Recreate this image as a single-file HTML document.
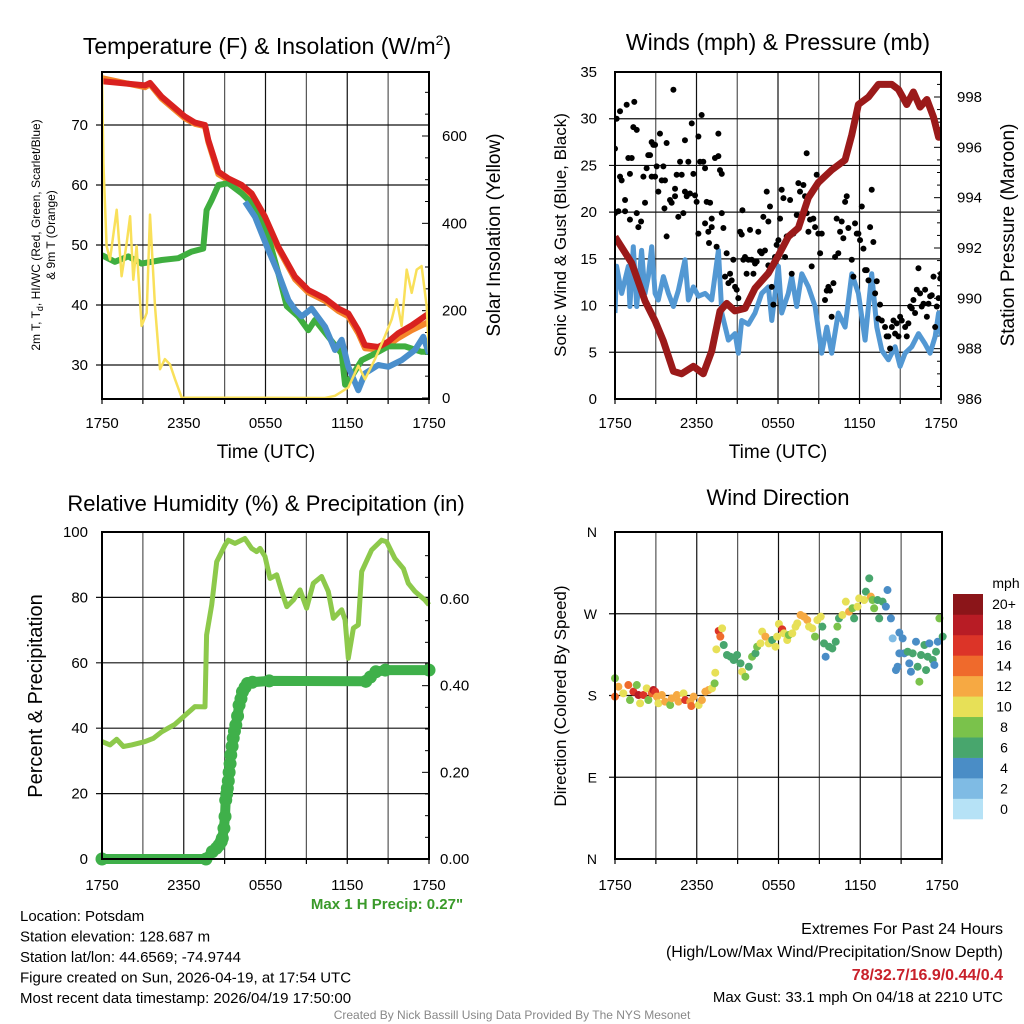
<!DOCTYPE html>
<html><head><meta charset="utf-8"><style>
body{margin:0;background:#fff;}
svg{display:block;font-family:"Liberation Sans",Arial,sans-serif;}
</style></head><body>
<svg id="c" width="1024" height="1024" viewBox="0 0 1024 1024" xmlns="http://www.w3.org/2000/svg"></svg>
<script>
// ---------- DATA ----------
const tempT=[0,3.16,3.52,4.38,6.09,6.82,7.56,7.8,8.54,9.27,10.25,10.98,11.96,12.94,14.17,15.14,16.37,17.35,18.08,18.81,19.3,20.28,21.01,21.75,22.73,24];
const tempV=[77.3,76.6,77,74.7,71.4,70.4,70,67.5,62.2,61.1,60,58.6,54.7,49.7,44.7,42.5,41.1,39.4,38.6,35.8,33.3,33,33.9,35.3,36.6,38.6];
const t9T=[0,3.16,3.52,4.38,6.09,6.82,7.56,7.8,8.54,9.27,10.25,10.98,11.96,12.94,14.17,15.14,16.37,17.35,18.08,18.81,19.3,20.28,21.01,21.75,22.73,24];
const t9V=[77.8,76.3,76.8,74.4,71.1,70.2,69.8,67.2,61.8,60.8,59.7,58.3,54.4,49.4,44.3,42.1,40.7,39.0,38.1,35.3,32.8,32.6,33.3,34.5,35.8,37.2];
const tdT=[0,0.95,1.93,2.91,4.38,5.6,6.58,7.43,7.68,8.05,8.54,9.27,10.25,11.23,12.2,12.94,13.56,14.41,15.14,15.63,16.61,17.59,17.84,18.33,19.06,20.04,21.01,22.24,23.46,24];
const tdV=[48.3,47.2,48.1,46.9,47.5,47.8,48.9,49.4,55.8,57.5,60,60.3,58.6,56.4,51.4,45.3,39.8,38.1,35.8,37.5,34.7,31.9,26.7,28.1,30.8,31.9,33.1,33.1,32.2,32.2];
const hiT=[10.5,11.23,12.2,12.94,13.68,14.17,14.66,15.39,16.37,17.1,17.59,18.08,18.81,19.3,20.28,21.01,21.99,22.97,23.58,24];
const hiV=[57.2,54.7,49.2,45.3,40.8,39.2,38.1,39.4,36.4,32.5,34.2,29.7,25.8,28.6,30,29.7,30.8,32.5,34.7,31.9];
const solT=[0,0.10,0.34,0.59,1.08,1.44,1.81,2.06,2.30,2.54,2.91,3.28,3.52,3.89,4.26,4.62,4.99,5.36,5.85,16.37,17.1,18.08,18.81,19.3,20.04,20.77,21.26,21.63,21.99,22.36,22.73,23.1,23.46,23.83,24];
const solV=[742,537,348,317,431,279,355,416,271,348,165,195,420,210,66,89,77,43,1,0,5,24,74,43,89,142,180,226,165,294,241,294,302,210,104];
const presT=[0,1.23,2.21,2.95,3.56,4.3,4.9,5.77,6.5,7.12,7.73,8.22,8.83,9.57,10.31,11.29,12.03,12.76,13.5,14.24,14.97,15.95,16.94,17.43,17.92,18.66,19.39,20.38,20.87,21.48,21.97,22.46,22.96,23.45,23.82,24];
const presV=[992.45,991.4,989.9,989.1,988.3,987.1,987,987.3,987,987.9,989.5,989.8,989.5,989.6,990.4,991,991.7,992.45,992.8,994,994.6,995.1,995.5,996.5,997.7,998.0,998.5,998.5,998.3,997.7,998.2,997.6,997.9,997.2,996.4,996.8];
const windT=[0,0.12,0.49,0.98,1.1,1.35,1.6,1.96,2.21,2.45,2.7,2.95,3.19,3.56,3.93,4.3,4.66,5.15,5.4,5.77,6.14,6.63,7.12,7.61,7.86,8.35,8.84,9.08,9.33,9.82,10.31,10.8,11.29,11.54,12.03,12.27,12.76,13.01,13.38,13.75,14.24,14.73,15.22,15.59,15.95,16.44,16.94,17.43,17.92,18.41,18.9,19.27,19.64,20.13,20.62,20.99,21.36,21.85,22.34,22.83,23.2,23.57,23.82,24];
const windV=[9.2,14.2,11.3,14.2,9.9,16.3,9.9,15.9,11.3,13.1,16.3,11.3,10.6,13.1,11.3,9.9,11.6,14.9,10.6,12.0,11.0,11.3,10.6,15.9,9.2,6.3,7.0,4.9,8.4,8.0,9.2,11.3,12.0,8.4,14.2,9.2,11.3,13.1,9.9,13.4,12.0,9.9,4.9,7.7,4.9,9.2,7.7,13.4,11.3,6.3,13.4,7.7,5.2,4.2,5.6,3.5,4.9,5.6,7.0,5.9,4.9,6.7,9.2,6.7];
const gustT=[0,0.12,0.37,0.86,1.42,0,0.25,0.37,0.49,0.74,0.74,1.1,0.98,1.23,1.1,1.35,1.6,1.6,1.72,1.92,2.09,2.21,2.33,2.45,2.58,2.7,2.82,2.95,2.7,2.95,3.07,3.19,3.31,3.44,3.56,3.68,3.64,3.8,3.8,4.05,4.17,4.3,4.42,4.42,4.54,4.66,4.79,4.91,5.03,5.15,5.15,5.28,5.4,5.52,5.65,5.77,5.89,6.01,6.14,6.14,6.26,6.38,6.5,6.63,6.63,6.75,6.87,7.0,7.12,7.12,6.92,7.36,7.61,7.61,7.73,7.86,7.86,7.98,7.48,8.1,8.22,8.35,8.47,8.59,8.71,8.84,8.96,9.08,9.21,9.33,9.38,9.45,9.57,9.69,9.82,9.94,10.06,10.19,10.31,10.43,10.55,10.68,10.8,10.92,11.04,11.17,11.29,11.41,11.29,11.54,11.66,11.78,11.9,12.03,12.15,12.27,12.4,12.52,12.64,12.89,13.01,13.13,13.38,13.5,13.62,13.87,13.99,14.11,14.11,14.24,14.36,14.48,14.6,14.73,14.85,14.97,15.1,15.22,15.46,15.59,15.71,15.83,15.95,16.08,16.2,16.32,16.44,16.57,16.69,16.81,16.94,17.06,17.18,17.43,17.55,17.67,17.8,17.92,18.04,18.17,18.29,18.41,18.53,18.66,18.78,18.9,19.02,19.15,19.27,19.39,19.51,19.64,19.88,20.0,20.13,20.25,20.38,20.5,20.62,20.74,20.87,20.99,21.11,21.36,21.48,21.6,21.73,21.85,21.97,22.09,22.22,22.34,22.46,22.58,22.71,22.83,22.96,23.08,23.2,23.32,23.45,23.57,23.69,23.82,23.94,24];
const gustV=[26.8,30.0,30.8,31.5,31.8,19.9,20.1,23.8,23.4,21.3,20.1,19.2,25.8,25.8,24.1,29.1,28.8,19.9,18.4,19.0,23.8,21.0,24.7,26.1,26.1,27.5,27.2,27.2,23.8,23.8,24.9,22.2,28.4,23.4,24.9,23.4,20.4,17.4,27.4,21.3,21.0,33.1,21.7,22.5,24.0,19.5,25.4,24.0,19.9,27.7,22.2,21.7,25.4,22.0,29.5,24.1,21.8,21.1,17.7,28.1,25.4,30.4,25.4,24.7,18.8,21.1,17.9,21.0,19.3,18.4,16.7,25.8,26.0,28.4,24.5,24.1,19.9,18.3,16.3,13.1,15.6,12.4,13.4,12.7,14.9,12.0,11.7,10.8,17.9,17.6,20.2,14.9,15.2,13.4,14.9,18.1,14.9,13.4,14.5,14.7,17.9,15.8,15.6,19.5,15.9,22.2,19.0,20.6,14.3,12.0,10.1,15.2,16.5,17.0,19.3,22.4,21.5,15.2,17.4,21.3,13.4,17.7,19.7,23.1,22.2,22.9,21.7,26.3,19.9,17.9,19.2,14.2,19.3,18.4,24.0,17.7,15.6,17.7,10.6,11.6,12.0,11.6,8.8,12.4,15.2,19.3,15.6,17.9,19.0,17.2,21.1,21.7,18.3,14.9,13.1,18.8,17.7,17.7,17.0,20.6,16.1,13.8,13.8,12.7,18.4,22.4,16.8,11.3,12.6,8.6,10.1,8.4,7.7,6.7,6.7,5.4,7.7,8.4,7.0,8.1,6.7,8.8,8.4,7.7,6.7,8.1,9.9,9.7,10.6,9.2,11.7,14.0,11.3,9.9,10.2,11.7,8.8,10.2,11.0,11.1,13.1,7.7,9.9,10.8,12.9,13.4];
const rhT=[0,0.59,1.08,1.57,2.18,3.16,3.77,4.38,5.36,6.09,6.82,7.56,7.68,8.05,8.42,9.03,9.27,9.76,10.49,10.98,11.35,11.6,11.96,12.33,12.82,13.19,13.56,14.05,14.53,15.02,15.51,16.12,16.61,16.98,17.59,17.84,18.08,18.45,18.81,19.06,19.79,20.53,20.89,21.5,22.12,22.48,22.97,23.7,24];
const rhV=[35.9,34.9,36.6,34.4,34.9,35.9,36.9,38.9,41.2,43.9,46.6,46.5,68.5,77.7,90.9,96.0,97.5,96.5,98.0,95.0,94.0,95.0,92.5,85.8,86.9,81.8,77.2,79.2,82.3,76.7,84.3,86.4,81.8,73.6,76.2,73.1,61.4,70.6,71.6,87.9,94.5,97.5,97.0,91.9,88.8,84.3,81.8,79.2,77.7];
const prT=[0,7.63,8.1,8.4,8.59,8.75,8.83,8.95,9.03,9.08,9.15,9.2,9.27,9.33,9.4,9.45,9.55,9.63,9.72,9.82,9.95,10.06,10.2,10.31,10.5,10.68,11.04,12.27,19.36,19.7,20.1,20.8,24];
const prV=[0,0,0.017,0.025,0.032,0.04,0.048,0.071,0.098,0.136,0.15,0.163,0.18,0.2,0.22,0.24,0.26,0.279,0.295,0.309,0.33,0.355,0.37,0.386,0.396,0.405,0.408,0.411,0.41,0.42,0.432,0.436,0.436];
const dirT=[0,0.25,0.61,0.98,1.1,1.35,1.6,1.72,1.84,2.09,2.33,2.45,2.7,2.82,2.95,3.07,3.19,3.44,3.68,4.05,4.17,4.54,4.66,5.03,5.15,5.52,5.6,5.77,6.14,6.38,6.63,6.87,7.12,7.31,7.36,7.44,7.61,7.73,7.86,7.98,8.22,8.47,8.71,8.96,9.21,9.33,9.57,9.82,10.06,10.31,10.43,10.68,10.8,11.04,11.29,11.54,11.78,11.9,12.03,12.27,12.4,12.64,12.76,13.01,13.25,13.38,13.62,13.87,14.11,14.24,14.48,14.68,14.85,15.1,15.22,15.34,15.46,15.71,15.95,16.2,16.32,16.44,16.69,16.94,17.18,17.43,17.55,17.8,17.92,18.29,18.41,18.66,18.78,18.9,19.02,19.27,19.39,19.64,19.88,20.0,20.25,20.38,20.87,21.11,21.23,21.48,21.6,21.85,22.09,22.21,22.34,22.46,22.71,22.95,23.07,23.32,23.56,23.69,23.81,24.05,20.62,20.74,21.72,22.83,23.44,20.87,0];
const dirV=[178.7,189.7,182.4,191.5,175,184.2,191.5,180.5,171.4,180.5,187.9,175,182.4,186,184.2,178.7,171.4,180.5,173.2,169.5,176.9,180.5,173.2,182.4,175,173.2,168.4,178.7,169.5,175,184.2,186,187.9,193.4,205.1,230.8,251,244.8,253.9,235.6,224.6,222.7,219.1,224.6,215.4,206.2,200.7,211.7,222.7,226.4,233.7,237.4,250.3,244.8,237.4,241.1,233.7,244.8,258.7,252.8,248.4,241.1,246.6,248.4,255.8,259.4,268.6,266.8,263.1,255.8,253.9,244.8,263.1,266.8,255.8,237.4,222.7,233.7,231.8,239.2,255.8,264.9,268.6,283.3,272.3,276,264.9,277.8,286.9,285.1,294.3,309,288.8,285.1,276,285.1,264.9,283.3,277.8,296.1,264.9,242.9,249.2,242.9,226.4,228.2,215.4,226.4,239.2,211.7,195.2,224.6,235.6,222.7,237.4,219.1,228.2,239.2,264.9,244.8,208,211.7,206.2,208,213.6,226.4,199];
const dirS=[14,12,10,14,8,16,8,18,10,16,10,8,14,18,16,12,10,12,12,8,12,12,12,10,16,12,14,12,10,12,12,12,10,8,10,10,16,14,10,6,6,6,6,6,6,10,8,6,8,6,8,10,10,12,10,6,10,10,10,16,10,10,8,10,10,10,12,12,12,10,10,8,10,10,6,6,4,6,6,6,8,6,10,10,12,8,6,10,10,10,6,6,12,8,8,6,6,6,4,4,4,2,4,4,4,6,4,6,4,6,8,6,6,6,4,6,6,4,8,6,4,4,4,6,4,4,8];
const colorBins=['#b6e2f6','#7fbbe4','#4a8dc6','#48a66d','#7ac24b','#e7e057','#f6a943','#ef6a2c','#dc3428','#b81c25','#8b1519'];
const colorLabels=['0','2','4','6','8','10','12','14','16','18','20+'];
const xTickLabels=['1750','2350','0550','1150','1750'];
const tempTicks=[30,40,50,60,70];
const solTicks=[0,200,400,600];
const windTicks=[0,5,10,15,20,25,30,35];
const presTicks=[986,988,990,992,994,996,998];
const rhTicks=[0,20,40,60,80,100];
const prTicks=[0,0.2,0.4,0.6];
const dirTickVals=[0,90,180,270,360];
const dirTickLabels=['N','E','S','W','N'];

// ---------- helpers ----------
const NS='http://www.w3.org/2000/svg';
const svg=document.getElementById('c');
function mk(tag,attrs,parent){const e=document.createElementNS(NS,tag);for(const k in attrs)e.setAttribute(k,attrs[k]);(parent||svg).appendChild(e);return e;}
function txt(s,x,y,size,anchor,extra){const e=mk('text',Object.assign({x:x,y:y,'font-size':size,'text-anchor':anchor||'middle',fill:'#000'},extra||{}));e.textContent=s;return e;}
function lin(d0,d1,r0,r1){return v=>r0+(v-d0)/(d1-d0)*(r1-r0);}
function pathFrom(ts,vs,sx,sy){return ts.map((t,i)=>(i?'L':'M')+sx(t).toFixed(1)+','+sy(vs[i]).toFixed(1)).join('');}

function frame(x0,x1,y0,y1,hVals,sy,name,lblOff){
  const g=mk('g',{});
  
  
  for(let i=1;i<8;i++){const x=x0+(x1-x0)*i/8;mk('line',{x1:x,x2:x,y1:y0,y2:y1,stroke:i%2?'#555':'#111','stroke-width':1.2},g);}
  hVals.forEach(v=>{const y=sy(v);mk('line',{x1:x0-6,x2:x1,y1:y,y2:y,stroke:'#111','stroke-width':1.2},g);});
  for(let i=0;i<=8;i++){const x=x0+(x1-x0)*i/8;mk('line',{x1:x,x2:x,y1:y1,y2:y1+5,stroke:'#000','stroke-width':1.2},g);}
  xTickLabels.forEach((s,i)=>{const t=txt(s,x0+(x1-x0)*i/4,y1+lblOff,15);
    
    });
}
function border(x0,x1,y0,y1,name){const r=mk('rect',{x:x0,y:y0,width:x1-x0,height:y1-y0,fill:'none',stroke:'#000','stroke-width':2});
  
  }
function rot(s,x,y,size,name){const t=txt(s,x,y,size,'middle',{transform:`rotate(-90 ${x} ${y})`});
  
  return t;}

// ---------- Panel 1: Temperature ----------
{
const x0=102,x1=429,y0=72,y1=399;
const sx=lin(0,24,x0,x1), sy=lin(30,70,365,125), sS=lin(0,600,398,136);
frame(x0,x1,y0,y1,tempTicks,sy,'temperature',29);
tempTicks.forEach(v=>{const t=txt(String(v),88,sy(v)+5,15,'end');
  
  });
for(let v=0;v<=700;v+=50){const y=sS(v);if(y<y0)break;mk('line',{x1:x1-(v%200===0?7:4),x2:x1,y1:y,y2:y,stroke:'#000','stroke-width':1});}
solTicks.forEach(v=>{const t=txt(String(v),442,sS(v)+5,15,'start');
  
  });
const defs=mk('defs',{});const cp=mk('clipPath',{id:'cp1'},defs);mk('rect',{x:x0,y:y0,width:x1-x0,height:y1-y0+3},cp);
const g=mk('g',{'clip-path':'url(#cp1)'});
let p=mk('path',{d:pathFrom(t9T,t9V,sx,sy),fill:'none',stroke:'#f4862a','stroke-width':6,'stroke-linejoin':'round'},g);

p=mk('path',{d:pathFrom(tdT,tdV,sx,sy),fill:'none',stroke:'#3fae3f','stroke-width':6,'stroke-linejoin':'round'},g);

p=mk('path',{d:pathFrom(hiT,hiV,sx,sy),fill:'none',stroke:'#4a8fcc','stroke-width':6,'stroke-linejoin':'round'},g);

p=mk('path',{d:pathFrom(tempT,tempV,sx,sy),fill:'none',stroke:'#d9211f','stroke-width':6,'stroke-linejoin':'round'},g);

p=mk('path',{d:pathFrom(solT,solV,sx,sS),fill:'none',stroke:'#f9e05a','stroke-width':2.5,'stroke-linejoin':'round'},g);

border(x0,x1,y0,y1,'temperature');
const ti=mk('text',{x:267,y:54,'font-size':23,'text-anchor':'middle'});ti.innerHTML='Temperature (F) &amp; Insolation (W/m<tspan dy="-9" font-size="14">2</tspan><tspan dy="9">)</tspan>';

let a=txt('Time (UTC)',266,458,19);
const r1=mk('text',{x:40,y:235,'font-size':12,'text-anchor':'middle',transform:'rotate(-90 40 235)'});
r1.innerHTML='2m T, T<tspan dy="3" font-size="9">d</tspan><tspan dy="-3">, HI/WC (Red, Green, Scarlet/Blue)</tspan>';

rot('& 9m T (Orange)',55,235,12,'temp-y-axis-title-2');
rot('Solar Insolation (Yellow)',500,235,19,'insolation-y-axis-title');
}

// ---------- Panel 2: Winds ----------
{
const x0=615,x1=941,y0=72,y1=399;
const sx=lin(0,24,x0,x1), sy=lin(0,35,399,72), sP=lin(986,998,399,97);
frame(x0,x1,y0,y1,windTicks.slice(1,7),sy,'winds',29);
windTicks.forEach(v=>{const t=txt(String(v),597,sy(v)+5,15,'end');
  
  });
for(let v=986;v<=999;v+=0.5){const y=sP(v);if(y<y0)break;mk('line',{x1:x1-(v%2===0?7:4),x2:x1,y1:y,y2:y,stroke:'#000','stroke-width':1});}
presTicks.forEach(v=>{const t=txt(String(v),957,sP(v)+5,15,'start');
  
  });
const defs=mk('defs',{});const cp=mk('clipPath',{id:'cp2'},defs);mk('rect',{x:x0,y:y0,width:x1-x0,height:y1-y0},cp);
const g=mk('g',{'clip-path':'url(#cp2)'});
let p=mk('path',{d:pathFrom(windT,windV,sx,sy),fill:'none',stroke:'#5398d3','stroke-width':5,'stroke-linejoin':'round'},g);

gustT.forEach((t,i)=>{const c=mk('circle',{cx:sx(t),cy:sy(gustV[i]),r:3,fill:'#000'},g);
  
  });
p=mk('path',{d:pathFrom(presT,presV,sx,sP),fill:'none',stroke:'#9b1a1a','stroke-width':7,'stroke-linejoin':'round'},g);

border(x0,x1,y0,y1,'winds');
let a=txt('Winds (mph) & Pressure (mb)',778,50,23);
a=txt('Time (UTC)',778,458,19);
rot('Sonic Wind & Gust (Blue, Black)',566,235,17,'wind-y-axis-title');
rot('Station Pressure (Maroon)',1014,235,19,'pressure-y-axis-title');
}

// ---------- Panel 3: RH & Precip ----------
{
const x0=102,x1=429,y0=532,y1=859;
const sx=lin(0,24,x0,x1), sy=lin(0,100,859,532), sP=lin(0,0.6,859,599);
frame(x0,x1,y0,y1,rhTicks.slice(1,5),sy,'humidity',31);
rhTicks.forEach(v=>{const t=txt(String(v),88,sy(v)+5,15,'end');
  
  });
for(let v=0;v<=0.75;v+=0.05){const y=sP(v);if(y<y0-0.5)break;mk('line',{x1:x1-(Math.round(v*100)%20===0?7:4),x2:x1,y1:y,y2:y,stroke:'#000','stroke-width':1});}
prTicks.forEach(v=>{const t=txt(v.toFixed(2),440,sP(v)+5,15,'start');
  
  });
const defs=mk('defs',{});const cp=mk('clipPath',{id:'cp3'},defs);mk('rect',{x:x0-8,y:y0,width:x1-x0+16,height:y1-y0+8},cp);
const g=mk('g',{'clip-path':'url(#cp3)'});
let p=mk('path',{d:pathFrom(rhT,rhV,sx,sy),fill:'none',stroke:'#8dc94b','stroke-width':5,'stroke-linejoin':'round'},g);

p=mk('path',{d:pathFrom(prT,prV,sx,sP),fill:'none',stroke:'#3fb04a','stroke-width':10,'stroke-linecap':'round','stroke-linejoin':'round'},g);

prT.forEach((t,i)=>{const c=mk('circle',{cx:sx(t),cy:sP(prV[i]),r:6.5,fill:'#3fb04a'},g);
  
  });
border(x0,x1,y0,y1,'humidity');
let a=txt('Relative Humidity (%) & Precipitation (in)',266,511,22);
rot('Percent & Precipitation',42,696,20,'rh-y-axis-title');
a=txt('Max 1 H Precip: 0.27"',387,909,15,'middle',{fill:'#3a9a2a','font-weight':'bold'});
}

// ---------- Panel 4: Wind Direction ----------
{
const x0=615,x1=942,y0=532,y1=859;
const sx=lin(0,24,x0,x1), sy=lin(0,360,859,532);
frame(x0,x1,y0,y1,[90,180,270],sy,'direction',31);
dirTickVals.forEach((v,i)=>{const t=txt(dirTickLabels[i],597,sy(v)+5,14,'end');
  
  });
dirT.forEach((t,i)=>{const bin=Math.min(10,Math.floor(dirS[i]/2));
  const c=mk('circle',{cx:sx(t),cy:sy(dirV[i]),r:4,fill:colorBins[bin]});
  
  });
border(x0,x1,y0,y1,'direction');
let a=txt('Wind Direction',778,505,22);
rot('Direction (Colored By Speed)',566,696,17,'direction-y-axis-title');
const cb=mk('g',{});

const cy0=594,cy1=819,h=(cy1-cy0)/colorBins.length;
colorBins.forEach((c,i)=>{const y=cy1-(i+1)*h;mk('rect',{x:953,y:y,width:30,height:h+0.3,fill:c},cb);
  const t=txt(colorLabels[i],1004,y+h/2+5,14,'middle',{});cb.appendChild(t);});
const mt=txt('mph',1006,588,14);
}

// ---------- Footer text ----------
const info=['Location: Potsdam','Station elevation: 128.687 m','Station lat/lon: 44.6569; -74.9744','Figure created on Sun, 2026-04-19, at 17:54 UTC','Most recent data timestamp: 2026/04/19 17:50:00'];
info.forEach((s,i)=>{const t=txt(s,20,921+i*20.5,15,'start');
  
  });
let e=txt('Extremes For Past 24 Hours',1003,934,16,'end');
e=txt('(High/Low/Max Wind/Precipitation/Snow Depth)',1003,957,16,'end');
e=txt('78/32.7/16.9/0.44/0.4',1003,980,16,'end',{fill:'#c8202a','font-weight':'bold'});
e=txt('Max Gust: 33.1 mph On 04/18 at 2210 UTC',1003,1002,15,'end');
e=txt('Created By Nick Bassill Using Data Provided By The NYS Mesonet',512,1019,12,'middle',{fill:'#888'});
</script>
</body></html>
